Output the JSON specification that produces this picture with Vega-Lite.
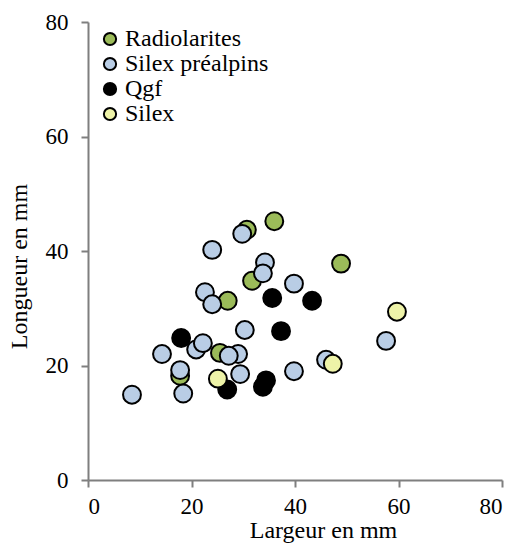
{
  "$schema": "https://vega.github.io/schema/vega-lite/v6.json",
  "width": 414,
  "height": 458,
  "autosize": "none",
  "padding": {"left": 88, "top": 22, "right": 13, "bottom": 70},
  "background": "white",
  "config": {
    "view": {"stroke": null},
    "font": "Liberation Serif"
  },
  "data": {
    "values": [
      {"type": "Radiolarites", "largeur": 30.7, "longueur": 43.7},
      {"type": "Radiolarites", "largeur": 36.0, "longueur": 45.2},
      {"type": "Radiolarites", "largeur": 48.9, "longueur": 37.8},
      {"type": "Radiolarites", "largeur": 31.7, "longueur": 34.8},
      {"type": "Radiolarites", "largeur": 27.0, "longueur": 31.3},
      {"type": "Radiolarites", "largeur": 25.5, "longueur": 22.2},
      {"type": "Radiolarites", "largeur": 17.8, "longueur": 18.2},
      {"type": "Silex préalpins", "largeur": 29.8, "longueur": 43.0},
      {"type": "Silex préalpins", "largeur": 24.0, "longueur": 40.2},
      {"type": "Silex préalpins", "largeur": 34.2, "longueur": 38.0},
      {"type": "Silex préalpins", "largeur": 33.8, "longueur": 36.1},
      {"type": "Silex préalpins", "largeur": 39.8, "longueur": 34.3},
      {"type": "Silex préalpins", "largeur": 22.6, "longueur": 32.8},
      {"type": "Silex préalpins", "largeur": 24.0, "longueur": 30.7},
      {"type": "Silex préalpins", "largeur": 30.3, "longueur": 26.2},
      {"type": "Silex préalpins", "largeur": 14.3, "longueur": 22.0},
      {"type": "Silex préalpins", "largeur": 20.9, "longueur": 22.8},
      {"type": "Silex préalpins", "largeur": 22.2, "longueur": 23.9},
      {"type": "Silex préalpins", "largeur": 29.0, "longueur": 22.0},
      {"type": "Silex préalpins", "largeur": 27.2, "longueur": 21.7},
      {"type": "Silex préalpins", "largeur": 17.8, "longueur": 19.2},
      {"type": "Silex préalpins", "largeur": 29.4, "longueur": 18.5},
      {"type": "Silex préalpins", "largeur": 39.8, "longueur": 19.0},
      {"type": "Silex préalpins", "largeur": 8.5, "longueur": 14.9},
      {"type": "Silex préalpins", "largeur": 18.4, "longueur": 15.1},
      {"type": "Silex préalpins", "largeur": 57.6, "longueur": 24.3},
      {"type": "Silex préalpins", "largeur": 46.0, "longueur": 21.0},
      {"type": "Qgf", "largeur": 35.6, "longueur": 31.8},
      {"type": "Qgf", "largeur": 43.3, "longueur": 31.3},
      {"type": "Qgf", "largeur": 37.3, "longueur": 26.0},
      {"type": "Qgf", "largeur": 18.0, "longueur": 24.8},
      {"type": "Qgf", "largeur": 26.9, "longueur": 15.8},
      {"type": "Qgf", "largeur": 34.4, "longueur": 17.4},
      {"type": "Qgf", "largeur": 33.8, "longueur": 16.3},
      {"type": "Silex", "largeur": 25.1, "longueur": 17.7},
      {"type": "Silex", "largeur": 47.3, "longueur": 20.3},
      {"type": "Silex", "largeur": 59.7, "longueur": 29.4}
    ]
  },
  "mark": {"type": "point", "filled": true, "opacity": 1, "stroke": "black", "strokeWidth": 2, "shape": "circle", "size": 320},
  "encoding": {
    "x": {
      "field": "largeur", "type": "quantitative",
      "scale": {"domain": [0, 80], "nice": false},
      "axis": {
        "title": "Largeur en mm", "values": [0, 20, 40, 60, 80], "grid": false,
        "domainColor": "#7f7f7f", "domainWidth": 2, "tickColor": "#7f7f7f", "tickWidth": 2, "tickSize": 7,
        "labelFont": "Liberation Serif", "labelFontSize": 23, "labelColor": "black", "labelPadding": 8,
        "titleFont": "Liberation Serif", "titleFontSize": 24, "titleFontWeight": "normal", "titleColor": "black",
        "titlePadding": 0, "titleX": 235
      }
    },
    "y": {
      "field": "longueur", "type": "quantitative",
      "scale": {"domain": [0, 80], "nice": false},
      "axis": {
        "title": "Longueur en mm", "values": [0, 20, 40, 60, 80], "grid": false,
        "domainColor": "#7f7f7f", "domainWidth": 2, "tickColor": "#7f7f7f", "tickWidth": 2, "tickSize": 7,
        "labelFont": "Liberation Serif", "labelFontSize": 23, "labelColor": "black", "labelPadding": 13,
        "titleFont": "Liberation Serif", "titleFontSize": 24, "titleFontWeight": "normal", "titleColor": "black",
        "titlePadding": 14, "titleY": 244
      }
    },
    "fill": {
      "field": "type", "type": "nominal",
      "scale": {"domain": ["Radiolarites", "Silex préalpins", "Qgf", "Silex"], "range": ["#9bbb59", "#b9cde5", "#000000", "#eef3a8"]},
      "legend": {
        "title": null, "orient": "none", "legendX": 10, "legendY": 5,
        "symbolType": "circle", "symbolSize": 150, "symbolStrokeColor": "black", "symbolStrokeWidth": 2,
        "labelFont": "Liberation Serif", "labelFontSize": 24, "labelColor": "black", "labelOffset": 3,
        "rowPadding": 1
      }
    }
  }
}
